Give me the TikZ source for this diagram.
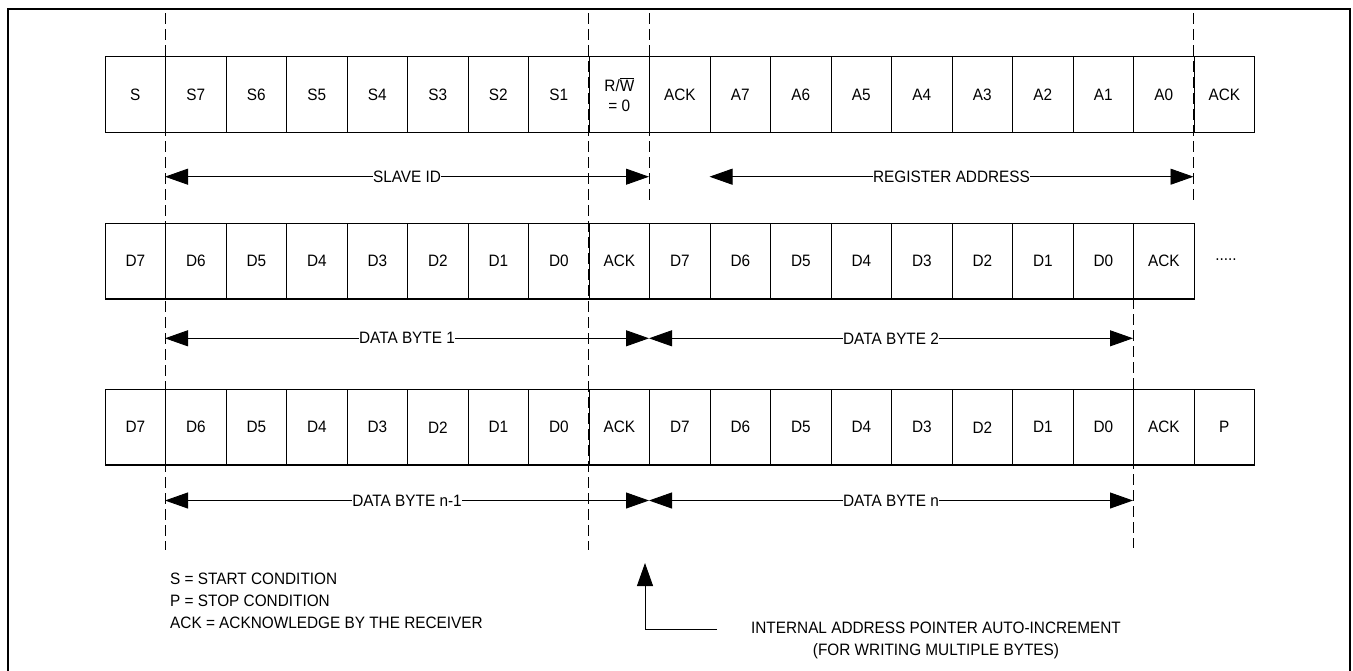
\documentclass[tikz,border=0pt]{standalone}
\usepackage{fontspec}
\setmainfont{Liberation Sans}[FakeStretch=0.93]
\usetikzlibrary{arrows.meta}
\begin{document}
\begin{tikzpicture}[x=1pt,y=-1pt,
  cell/.style={draw, line width=1.2pt, minimum width=60.5pt, minimum height=75.7pt,
    anchor=north west, inner sep=0pt, align=center, font=\fontsize{16.5}{20}\selectfont},
  guide/.style={dash pattern=on 11pt off 5pt, line width=0.9pt},
  tri/.tip={Triangle[length=23pt,width=16pt]},
  span/.style={tri-tri, line width=0.9pt},
  lbl/.style={fill=white, inner sep=0.5pt, font=\fontsize{16.5}{18}\selectfont},
  note/.style={inner sep=0pt, font=\fontsize{16.5}{22}\selectfont}
]
\useasboundingbox (0,0) rectangle (1353,670);
\clip (0,0) rectangle (1353,670);
\fill[white] (0,0) rectangle (1353,670);
% frame
\draw[line width=1.3pt] (8,9) rectangle (1350,680);

% row 1
\foreach \t [count=\i from 0] in {S,S7,S6,S5,S4,S3,S2,S1,{R/$\overline{\mbox{W}}$\\= 0},ACK,A7,A6,A5,A4,A3,A2,A1,A0,ACK}
  \node[cell] (r1-\i) at (104.5+\i*60.5,56) {\t};
% row 2
\foreach \t [count=\i from 0] in {D7,D6,D5,D4,D3,D2,D1,D0,ACK,D7,D6,D5,D4,D3,D2,D1,D0,ACK}
  \node[cell] (r2-\i) at (104.5+\i*60.5,222.7) {\t};
\node[lbl, fill=none] (dots) at (1226,260) {.....};
% row 3
\foreach \t [count=\i from 0] in {D7,D6,D5,D4,D3,D2,D1,D0,ACK,D7,D6,D5,D4,D3,D2,D1,D0,ACK,P}
  \node[cell, minimum height=75.3pt] (r3-\i) at (104.5+\i*60.5,389) {\t};

% guides
\draw[guide] (165,13) -- (165,550);
\draw[guide] (588.5,13) -- (588.5,550);
\draw[guide] (649,13) -- (649,201);
\draw[guide] (1193.5,13) -- (1193.5,201);
\draw[guide] (1133,298) -- (1133,548);

% span arrows
\coordinate (a1L) at (165,176.7);
\coordinate (a1R) at (649,176.7);
\coordinate (a2L) at (709.5,176.7);
\coordinate (a2R) at (1193.5,176.7);
\coordinate (b1L) at (165,338.3);
\coordinate (b1R) at (649,338.3);
\coordinate (b2R) at (1133,338.3);
\coordinate (c1L) at (165,500.5);
\coordinate (c1R) at (649,500.5);
\coordinate (c2R) at (1133,500.5);
\draw[span] (a1L) -- node[lbl] {SLAVE ID} (a1R);
\draw[span] (a2L) -- node[lbl] {REGISTER ADDRESS} (a2R);
\draw[span] (b1L) -- node[lbl] {DATA BYTE 1} (b1R);
\draw[span] (b1R) -- node[lbl] {DATA BYTE 2} (b2R);
\draw[span] (c1L) -- node[lbl] {DATA BYTE n-1} (c1R);
\draw[span] (c1R) -- node[lbl] {DATA BYTE n} (c2R);

% legend
\node[note, anchor=west, align=left] (legend) at (170,601) {S = START CONDITION\\P = STOP CONDITION\\ACK = ACKNOWLEDGE BY THE RECEIVER};

% pointer
\node[note, align=center] (ptrtext) at (936,640) {INTERNAL ADDRESS POINTER AUTO-INCREMENT\\(FOR WRITING MULTIPLE BYTES)};
\coordinate (ptrS) at (717,629);
\coordinate (ptrC) at (645,629);
\coordinate (ptrT) at (645,563);
\draw[-tri, line width=0.9pt] (ptrS) -- (ptrC) -- (ptrT);
\end{tikzpicture}
\end{document}
